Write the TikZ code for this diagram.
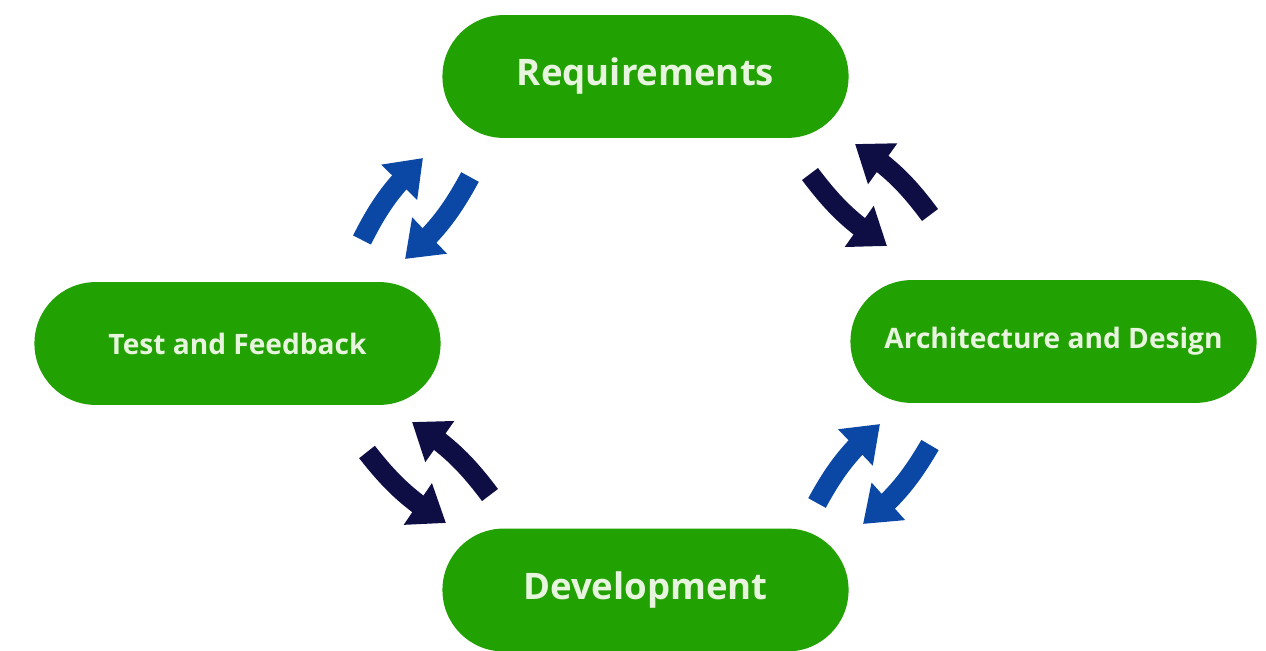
\documentclass[tikz,border=0pt]{standalone}
\usepackage{fontspec}
\setmainfont{Open Sans}
\usetikzlibrary{arrows.meta,bending}
\definecolor{phasegreen}{RGB}{33,161,2}
\definecolor{phasetext}{RGB}{232,245,222}
\definecolor{loopblue}{RGB}{11,72,166}
\definecolor{loopnavy}{RGB}{14,14,69}
\begin{document}
\begin{tikzpicture}[x=0.025cm,y=-0.025cm,
    phase/.style={rectangle, rounded corners=1.53cm, fill=phasegreen, text=phasetext,
        minimum width=10.15cm, minimum height=3.07cm, font=\bfseries\fontsize{20}{24}\selectfont},
    bigphase/.style={phase, font=\bfseries\fontsize{26}{31}\selectfont},
    loop/.style={line width=0.5cm, -{Triangle[length=0.85cm,width=1.2cm,flex]}}]
        \useasboundingbox [fill=white] (0,0) rectangle (1266,650);
        \node [bigphase] (req) at (645.5,76.5) {Requirements};
        \node [phase] (test) at (237.5,343.5) {Test and Feedback};
        \node [phase] (arch) at (1053.5,341.5) {\raisebox{-2pt}{Architecture and Design}};
        \node [bigphase] (dev) at (645.5,590) {Development};
        % test <-> requirements
        \coordinate (tr1) at (362,240);
        \coordinate (tr2) at (423,158);
        \coordinate (rt1) at (470,177);
        \coordinate (rt2) at (405,259);
        \draw [loop, loopblue] (tr1) to [bend left=10] (tr2);
        \draw [loop, loopblue] (rt1) to [bend left=10] (rt2);
        % requirements <-> architecture
        \coordinate (ra1) at (810,174);
        \coordinate (ra2) at (887,246);
        \coordinate (ar1) at (930,215);
        \coordinate (ar2) at (855,144);
        \draw [loop, loopnavy] (ra1) to [bend right=10] (ra2);
        \draw [loop, loopnavy] (ar1) to [bend right=10] (ar2);
        % architecture <-> development
        \coordinate (da1) at (817,503);
        \coordinate (da2) at (880,424);
        \coordinate (ad1) at (930,445);
        \coordinate (ad2) at (863,524);
        \draw [loop, loopblue] (da1) to [bend left=10] (da2);
        \draw [loop, loopblue] (ad1) to [bend left=10] (ad2);
        % development <-> test
        \coordinate (td1) at (367,452);
        \coordinate (td2) at (446,523);
        \coordinate (dt1) at (490,495);
        \coordinate (dt2) at (412,422);
        \draw [loop, loopnavy] (td1) to [bend right=10] (td2);
        \draw [loop, loopnavy] (dt1) to [bend right=10] (dt2);
\end{tikzpicture}
\end{document}
